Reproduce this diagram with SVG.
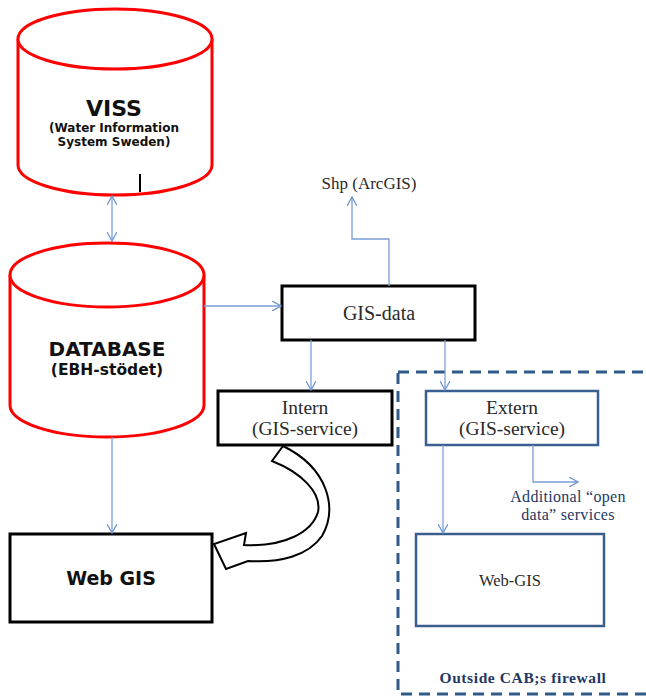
<svg xmlns="http://www.w3.org/2000/svg" width="646" height="697" viewBox="0 0 646 697">
<defs>
<marker id="ah" viewBox="0 0 10 10" refX="9" refY="5" markerWidth="10" markerHeight="10" markerUnits="userSpaceOnUse" orient="auto-start-reverse">
<path d="M0,0 L9,5 L0,10" fill="none" stroke="#6F95CF" stroke-width="1.3"/>
</marker>
<style>
.cyl{fill:#fff;stroke:#FF0000;stroke-width:3}
.box{fill:#fff;stroke:#000;stroke-width:3}
.bbox{fill:#fff;stroke:#3A5F8F;stroke-width:2.5}
.conn{fill:none;stroke:#7A9FD6;stroke-width:1.3}
.v{font-family:"DejaVu Sans",Verdana,sans-serif;font-weight:bold;fill:#111;text-anchor:middle}
.s{font-family:"Liberation Serif","Times New Roman",serif;fill:#2a2a2a;text-anchor:middle}
</style>
</defs>
<g id="firewall">
<rect x="398" y="372" width="260" height="322" fill="none" stroke="#2F5A8A" stroke-width="3" stroke-dasharray="11,7"/>
<text class="s" x="523" y="683" font-size="15.5" font-weight="bold" style="fill:#1F3864" letter-spacing="0.6">Outside CAB;s firewall</text>
</g>
<g id="viss">
<path class="cyl" d="M18,39 L18,165 A97,30 0 0 0 212,165 L212,39"/>
<ellipse class="cyl" cx="115" cy="39" rx="97" ry="30"/>
<text class="v" x="114" y="116" font-size="22">VISS</text>
<text class="v" x="114" y="132" font-size="12">(Water Information</text>
<text class="v" x="114" y="146" font-size="12">System Sweden)</text>
<line x1="140" y1="174" x2="140" y2="192" stroke="#000" stroke-width="2"/>
</g>
<g id="database">
<path class="cyl" d="M10,275 L10,405 A97,32 0 0 0 204,405 L204,275"/>
<ellipse class="cyl" cx="107" cy="275" rx="97" ry="32"/>
<text class="v" x="107" y="356" font-size="20">DATABASE</text>
<text class="v" x="107" y="375" font-size="15.5">(EBH-stödet)</text>
</g>
<g id="webgis-left">
<rect class="box" x="10" y="534" width="202" height="88"/>
<text class="v" x="111" y="585" font-size="19">Web GIS</text>
</g>
<g id="gisdata">
<rect class="box" x="282" y="286" width="193" height="54"/>
<text class="s" x="379" y="320" font-size="20">GIS-data</text>
</g>
<g id="shp">
<text class="s" x="369" y="189" font-size="17">Shp (ArcGIS)</text>
</g>
<g id="intern">
<rect class="box" x="218" y="391" width="174" height="54"/>
<text class="s" x="305" y="414" font-size="19.5">Intern</text>
<text class="s" x="305" y="435" font-size="19.5">(GIS-service)</text>
</g>
<g id="extern">
<rect class="bbox" x="426" y="391" width="172" height="54"/>
<text class="s" x="512" y="414" font-size="19.5">Extern</text>
<text class="s" x="512" y="435" font-size="19.5">(GIS-service)</text>
</g>
<g id="opendata">
<text class="s" x="568" y="502" font-size="16" style="fill:#1F3864" letter-spacing="0.3">Additional “open</text>
<text class="s" x="568" y="520" font-size="16" style="fill:#1F3864" letter-spacing="0.3">data” services</text>
</g>
<g id="webgis-right">
<rect class="bbox" x="416" y="534" width="188" height="92"/>
<text class="s" x="510" y="586" font-size="16.5">Web-GIS</text>
</g>
<g id="connectors">
<line class="conn" x1="112" y1="196" x2="112" y2="241" marker-start="url(#ah)" marker-end="url(#ah)"/>
<line class="conn" x1="204" y1="306" x2="281" y2="306" marker-end="url(#ah)"/>
<path class="conn" d="M389,286 L389,239 L352,239 L352,197" marker-end="url(#ah)"/>
<line class="conn" x1="311" y1="340" x2="311" y2="390" marker-end="url(#ah)"/>
<line class="conn" x1="445" y1="340" x2="445" y2="390" marker-end="url(#ah)"/>
<line class="conn" x1="112" y1="437" x2="112" y2="533" marker-end="url(#ah)"/>
<line class="conn" x1="443" y1="445" x2="443" y2="533" marker-end="url(#ah)"/>
<path class="conn" d="M533,445 L533,482 L578,482" marker-end="url(#ah)"/>
<path d="M283,446 C328,468 338,508 322,536 C308,556 280,563 248,561 L226,569 L214,544 L246,533 L244,545 C285,547 312,532 318,512 C322,492 300,472 272,461 Z" fill="#fff" stroke="#000" stroke-width="2"/>
</g>
</svg>
